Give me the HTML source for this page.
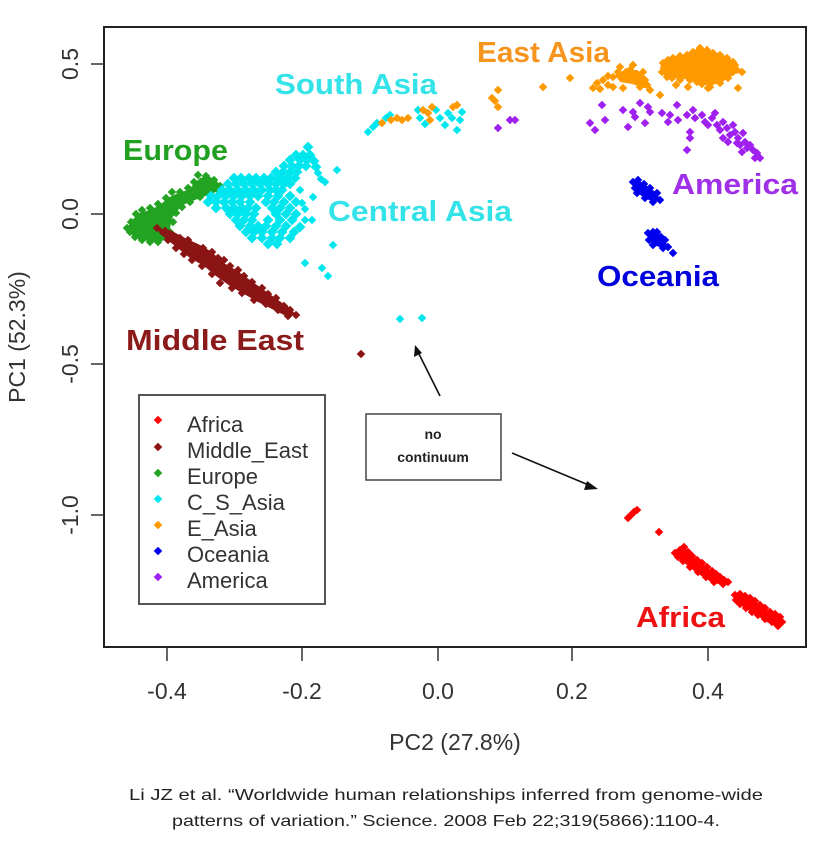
<!DOCTYPE html>
<html><head><meta charset="utf-8"><style>
html,body{margin:0;padding:0;background:#fff;}
svg{display:block;}
</style></head><body>
<svg width="825" height="851" viewBox="0 0 825 851" xmlns="http://www.w3.org/2000/svg" xmlns:xlink="http://www.w3.org/1999/xlink">
<defs><path id="d" d="M0-4.3L4.3 0 0 4.3-4.3 0z"/><path id="D" d="M0-5.4L5.4 0 0 5.4-5.4 0z"/></defs>
<rect width="825" height="851" fill="#fff"/>

<!-- Europe -->
<g fill="#22a322">
<polygon points="127,228 132,220 140,213 150,210 160,205 168,198 178,193 188,190 195,183 200,178 208,176 216,180 222,188 214,193 205,196 195,200 185,204 178,210 172,218 170,228 168,238 160,242 150,241 140,240 133,236"/>
<use href="#d" x="127" y="228"/><use href="#d" x="131" y="222"/><use href="#d" x="136" y="214"/><use href="#d" x="142" y="210"/><use href="#d" x="150" y="208"/><use href="#d" x="158" y="204"/><use href="#d" x="166" y="198"/><use href="#d" x="172" y="192"/><use href="#d" x="180" y="192"/><use href="#d" x="188" y="188"/><use href="#d" x="194" y="182"/><use href="#d" x="198" y="175"/><use href="#d" x="206" y="176"/><use href="#d" x="214" y="180"/><use href="#d" x="220" y="186"/><use href="#d" x="218" y="190"/><use href="#d" x="210" y="194"/><use href="#d" x="200" y="197"/><use href="#d" x="190" y="202"/><use href="#d" x="182" y="207"/><use href="#d" x="176" y="213"/><use href="#d" x="173" y="222"/><use href="#d" x="170" y="232"/><use href="#d" x="166" y="238"/><use href="#d" x="158" y="242"/><use href="#d" x="150" y="242"/><use href="#d" x="142" y="240"/><use href="#d" x="135" y="237"/><use href="#d" x="130" y="232"/>
</g>

<!-- Middle East -->
<g fill="#8b1414">
<polygon points="157,228 170,230 185,238 200,245 212,252 222,262 236,270 250,280 264,290 278,300 290,308 296,315 286,316 272,309 258,302 244,294 230,286 216,276 204,266 190,258 180,250 170,242 160,234"/>
<use href="#d" x="157" y="228"/><use href="#d" x="165" y="231"/><use href="#d" x="172" y="236"/><use href="#d" x="180" y="238"/><use href="#d" x="188" y="240"/><use href="#d" x="196" y="247"/><use href="#d" x="203" y="248"/><use href="#d" x="212" y="252"/><use href="#d" x="218" y="258"/><use href="#d" x="224" y="260"/><use href="#d" x="230" y="266"/><use href="#d" x="238" y="270"/><use href="#d" x="244" y="276"/><use href="#d" x="252" y="282"/><use href="#d" x="262" y="288"/><use href="#d" x="268" y="294"/><use href="#d" x="276" y="298"/><use href="#d" x="284" y="306"/><use href="#d" x="290" y="310"/><use href="#d" x="296" y="315"/><use href="#d" x="288" y="316"/><use href="#d" x="278" y="310"/><use href="#d" x="266" y="304"/><use href="#d" x="254" y="300"/><use href="#d" x="242" y="293"/><use href="#d" x="232" y="288"/><use href="#d" x="220" y="283"/><use href="#d" x="212" y="274"/><use href="#d" x="202" y="266"/><use href="#d" x="192" y="260"/><use href="#d" x="184" y="254"/><use href="#d" x="176" y="248"/><use href="#d" x="168" y="240"/><use href="#d" x="361" y="354"/>
</g>

<!-- Cyan C/S Asia -->
<g fill="#00e6ee">
<use href="#D" x="308" y="147"/>
<use href="#D" x="296" y="155"/><use href="#D" x="303" y="155"/><use href="#D" x="310" y="155"/>
<use href="#D" x="290" y="160"/><use href="#D" x="300" y="160"/><use href="#D" x="307" y="160"/><use href="#D" x="314" y="161"/>
<use href="#D" x="284" y="166"/><use href="#D" x="292" y="166"/><use href="#D" x="299" y="166"/><use href="#D" x="306" y="166"/><use href="#D" x="316" y="167"/>
<use href="#D" x="276" y="172"/><use href="#D" x="283" y="172"/><use href="#D" x="290" y="172"/><use href="#D" x="297" y="172"/><use href="#d" x="318" y="173"/>
<use href="#D" x="234" y="178"/><use href="#D" x="241" y="178"/><use href="#D" x="249" y="178"/><use href="#D" x="256" y="178"/><use href="#D" x="264" y="178"/><use href="#D" x="271" y="178"/><use href="#D" x="280" y="178"/><use href="#D" x="288" y="178"/><use href="#D" x="295" y="178"/><use href="#d" x="321" y="179"/>
<use href="#D" x="228" y="184"/><use href="#D" x="236" y="184"/><use href="#D" x="244" y="184"/><use href="#D" x="252" y="184"/><use href="#D" x="260" y="184"/><use href="#D" x="268" y="184"/><use href="#D" x="276" y="184"/><use href="#D" x="284" y="184"/><use href="#D" x="290" y="184"/><use href="#d" x="325" y="182"/>
<use href="#D" x="222" y="190"/><use href="#D" x="230" y="190"/><use href="#D" x="238" y="190"/><use href="#D" x="246" y="190"/><use href="#D" x="254" y="190"/><use href="#D" x="262" y="190"/><use href="#D" x="270" y="190"/><use href="#D" x="276" y="190"/><use href="#D" x="282" y="190"/><use href="#d" x="300" y="190"/>
<use href="#D" x="211" y="196"/><use href="#D" x="218" y="196"/><use href="#D" x="226" y="196"/><use href="#D" x="234" y="196"/><use href="#D" x="242" y="196"/><use href="#D" x="250" y="196"/><use href="#D" x="258" y="196"/><use href="#D" x="268" y="196"/><use href="#D" x="278" y="196"/><use href="#D" x="290" y="196"/><use href="#d" x="313" y="197"/>
<use href="#D" x="208" y="202"/><use href="#D" x="216" y="202"/><use href="#D" x="224" y="202"/><use href="#D" x="232" y="202"/><use href="#D" x="240" y="202"/><use href="#D" x="250" y="202"/><use href="#D" x="266" y="202"/><use href="#D" x="274" y="202"/><use href="#D" x="284" y="202"/><use href="#D" x="296" y="202"/><use href="#d" x="302" y="203"/>
<use href="#D" x="216" y="208"/><use href="#D" x="226" y="208"/><use href="#D" x="234" y="208"/><use href="#D" x="242" y="208"/><use href="#D" x="248" y="208"/><use href="#D" x="256" y="208"/><use href="#D" x="272" y="208"/><use href="#D" x="280" y="208"/><use href="#D" x="290" y="208"/><use href="#d" x="305" y="209"/>
<use href="#D" x="230" y="214"/><use href="#D" x="238" y="214"/><use href="#D" x="246" y="214"/><use href="#D" x="254" y="214"/><use href="#D" x="276" y="214"/><use href="#D" x="286" y="214"/><use href="#D" x="296" y="214"/>
<use href="#D" x="236" y="220"/><use href="#D" x="244" y="220"/><use href="#D" x="252" y="220"/><use href="#D" x="268" y="220"/><use href="#D" x="280" y="220"/><use href="#D" x="292" y="220"/><use href="#d" x="305" y="220"/><use href="#d" x="312" y="220"/>
<use href="#D" x="240" y="226"/><use href="#D" x="250" y="226"/><use href="#D" x="258" y="226"/><use href="#D" x="266" y="226"/><use href="#D" x="276" y="226"/><use href="#D" x="286" y="226"/><use href="#D" x="300" y="227"/>
<use href="#D" x="246" y="232"/><use href="#D" x="254" y="232"/><use href="#D" x="262" y="232"/><use href="#D" x="272" y="232"/><use href="#D" x="282" y="232"/><use href="#D" x="294" y="232"/>
<use href="#D" x="252" y="238"/><use href="#D" x="262" y="238"/><use href="#D" x="272" y="238"/><use href="#D" x="280" y="238"/><use href="#D" x="290" y="238"/>
<use href="#D" x="268" y="244"/><use href="#D" x="277" y="244"/>
<use href="#d" x="337" y="170"/><use href="#d" x="333" y="245"/><use href="#d" x="305" y="263"/><use href="#d" x="322" y="268"/><use href="#d" x="328" y="276"/>
<use href="#d" x="400" y="319"/><use href="#d" x="422" y="318"/>
<use href="#d" x="368" y="132"/><use href="#d" x="373" y="127"/><use href="#d" x="377" y="123"/><use href="#d" x="386" y="118"/><use href="#d" x="390" y="115"/><use href="#d" x="418" y="110"/><use href="#d" x="420" y="118"/><use href="#d" x="425" y="124"/><use href="#d" x="436" y="110"/><use href="#d" x="440" y="118"/><use href="#d" x="445" y="125"/><use href="#d" x="448" y="113"/><use href="#d" x="452" y="118"/><use href="#d" x="457" y="130"/><use href="#d" x="462" y="112"/><use href="#d" x="460" y="120"/>
</g>

<!-- Orange E Asia -->
<g fill="#ff9900">
<use href="#d" x="382" y="123"/><use href="#d" x="391" y="120"/><use href="#d" x="397" y="118"/><use href="#d" x="402" y="120"/><use href="#d" x="408" y="118"/><use href="#d" x="423" y="110"/><use href="#d" x="428" y="113"/><use href="#d" x="432" y="107"/><use href="#d" x="453" y="107"/><use href="#d" x="457" y="105"/><use href="#d" x="430" y="120"/>
<use href="#d" x="498" y="90"/><use href="#d" x="492" y="98"/><use href="#d" x="495" y="101"/><use href="#d" x="498" y="107"/><use href="#d" x="543" y="87"/><use href="#d" x="570" y="78"/>
<polygon points="615,75 625,70 637,70 645,76 650,86 644,88 632,84 620,82"/>
<use href="#d" x="593" y="88"/><use href="#d" x="597" y="83"/><use href="#d" x="603" y="80"/><use href="#d" x="608" y="76"/><use href="#d" x="613" y="77"/><use href="#d" x="620" y="67"/><use href="#d" x="626" y="72"/><use href="#d" x="630" y="70"/><use href="#d" x="633" y="65"/><use href="#d" x="637" y="77"/><use href="#d" x="640" y="87"/><use href="#d" x="643" y="72"/><use href="#d" x="647" y="85"/><use href="#d" x="650" y="90"/><use href="#d" x="660" y="95"/><use href="#d" x="613" y="87"/><use href="#d" x="623" y="88"/><use href="#d" x="608" y="85"/><use href="#d" x="625" y="78"/><use href="#d" x="645" y="80"/><use href="#d" x="618" y="72"/><use href="#d" x="600" y="89"/>
<polygon points="662,62 672,57 686,54 700,47 714,52 728,57 736,64 735,74 722,82 710,86 697,82 685,79 672,78 664,75 660,68"/>
<use href="#d" x="663" y="63"/><use href="#d" x="668" y="60"/><use href="#d" x="673" y="58"/><use href="#d" x="680" y="56"/><use href="#d" x="687" y="55"/><use href="#d" x="693" y="52"/><use href="#d" x="700" y="48"/><use href="#d" x="707" y="50"/><use href="#d" x="713" y="53"/><use href="#d" x="720" y="55"/><use href="#d" x="727" y="58"/><use href="#d" x="733" y="62"/><use href="#d" x="735" y="65"/><use href="#d" x="737" y="70"/><use href="#d" x="733" y="72"/><use href="#d" x="728" y="78"/><use href="#d" x="720" y="83"/><use href="#d" x="710" y="87"/><use href="#d" x="702" y="84"/><use href="#d" x="697" y="82"/><use href="#d" x="690" y="80"/><use href="#d" x="680" y="80"/><use href="#d" x="672" y="78"/><use href="#d" x="667" y="77"/><use href="#d" x="662" y="72"/><use href="#d" x="742" y="72"/><use href="#d" x="738" y="88"/><use href="#d" x="708" y="88"/><use href="#d" x="676" y="85"/><use href="#d" x="688" y="87"/>
</g>

<!-- Purple America -->
<g fill="#a020f0">
<use href="#d" x="498" y="128"/><use href="#d" x="510" y="120"/><use href="#d" x="515" y="120"/>
<use href="#d" x="602" y="105"/><use href="#d" x="590" y="123"/><use href="#d" x="595" y="130"/><use href="#d" x="605" y="120"/><use href="#d" x="623" y="110"/><use href="#d" x="628" y="127"/><use href="#d" x="633" y="112"/><use href="#d" x="635" y="117"/><use href="#d" x="640" y="103"/><use href="#d" x="645" y="123"/><use href="#d" x="648" y="107"/><use href="#d" x="650" y="112"/><use href="#d" x="662" y="113"/><use href="#d" x="668" y="122"/><use href="#d" x="670" y="115"/><use href="#d" x="677" y="105"/><use href="#d" x="678" y="120"/><use href="#d" x="687" y="115"/><use href="#d" x="690" y="132"/><use href="#d" x="690" y="138"/><use href="#d" x="687" y="150"/><use href="#d" x="693" y="110"/><use href="#d" x="695" y="118"/><use href="#d" x="702" y="115"/><use href="#d" x="705" y="122"/><use href="#d" x="708" y="125"/><use href="#d" x="715" y="113"/><use href="#d" x="717" y="125"/><use href="#d" x="723" y="122"/><use href="#d" x="727" y="128"/><use href="#d" x="730" y="135"/><use href="#d" x="723" y="138"/><use href="#d" x="733" y="125"/><use href="#d" x="735" y="132"/><use href="#d" x="738" y="138"/><use href="#d" x="743" y="133"/><use href="#d" x="745" y="142"/><use href="#d" x="750" y="145"/><use href="#d" x="753" y="150"/><use href="#d" x="757" y="153"/><use href="#d" x="760" y="158"/><use href="#d" x="747" y="148"/><use href="#d" x="740" y="145"/><use href="#d" x="728" y="142"/><use href="#d" x="737" y="143"/><use href="#d" x="712" y="118"/><use href="#d" x="720" y="130"/><use href="#d" x="742" y="152"/><use href="#d" x="755" y="158"/>
</g>

<!-- Blue Oceania -->
<g fill="#0000ee">
<polygon points="633,182 638,180 650,188 657,193 660,200 653,202 645,198 637,193 635,188"/>
<use href="#d" x="633" y="182"/><use href="#d" x="638" y="180"/><use href="#d" x="644" y="184"/><use href="#d" x="650" y="188"/><use href="#d" x="657" y="193"/><use href="#d" x="660" y="200"/><use href="#d" x="653" y="202"/><use href="#d" x="645" y="198"/><use href="#d" x="637" y="193"/><use href="#d" x="635" y="188"/>
<polygon points="648,233 657,232 665,240 668,247 663,248 653,245 649,240"/>
<use href="#d" x="648" y="233"/><use href="#d" x="653" y="232"/><use href="#d" x="657" y="232"/><use href="#d" x="661" y="237"/><use href="#d" x="665" y="240"/><use href="#d" x="668" y="247"/><use href="#d" x="673" y="253"/><use href="#d" x="663" y="248"/><use href="#d" x="653" y="245"/><use href="#d" x="649" y="240"/>
</g>

<!-- Red Africa -->
<g fill="#ff0000">
<use href="#d" x="628" y="518"/><use href="#d" x="631" y="515"/><use href="#d" x="634" y="512"/><use href="#d" x="637" y="510"/><use href="#d" x="659" y="532"/>
<polygon points="675,553 683,547 690,553 700,562 710,570 720,578 728,582 725,585 713,583 703,577 693,570 683,562 677,557"/>
<use href="#d" x="675" y="553"/><use href="#d" x="680" y="550"/><use href="#d" x="684" y="547"/><use href="#d" x="688" y="552"/><use href="#d" x="692" y="556"/><use href="#d" x="697" y="560"/><use href="#d" x="702" y="563"/><use href="#d" x="707" y="567"/><use href="#d" x="712" y="571"/><use href="#d" x="716" y="574"/><use href="#d" x="720" y="577"/><use href="#d" x="724" y="580"/><use href="#d" x="728" y="582"/><use href="#d" x="723" y="584"/><use href="#d" x="714" y="582"/><use href="#d" x="706" y="577"/><use href="#d" x="698" y="572"/><use href="#d" x="690" y="567"/><use href="#d" x="683" y="561"/><use href="#d" x="678" y="557"/>
<polygon points="735,595 743,595 753,600 767,610 780,617 782,622 777,627 767,622 753,613 743,607 737,600"/>
<use href="#d" x="735" y="595"/><use href="#d" x="740" y="594"/><use href="#d" x="745" y="596"/><use href="#d" x="750" y="598"/><use href="#d" x="755" y="601"/><use href="#d" x="760" y="605"/><use href="#d" x="765" y="608"/><use href="#d" x="770" y="612"/><use href="#d" x="775" y="614"/><use href="#d" x="780" y="617"/><use href="#d" x="782" y="622"/><use href="#d" x="778" y="626"/><use href="#d" x="772" y="622"/><use href="#d" x="765" y="619"/><use href="#d" x="758" y="615"/><use href="#d" x="752" y="612"/><use href="#d" x="746" y="608"/><use href="#d" x="740" y="604"/><use href="#d" x="736" y="600"/>
</g>

<!-- Region labels -->
<g font-family="Liberation Sans, sans-serif" font-weight="bold" font-size="29">
<text x="477" y="62" fill="#f7941d" textLength="133" lengthAdjust="spacingAndGlyphs">East Asia</text>
<text x="275" y="94" fill="#33e3e8" textLength="162" lengthAdjust="spacingAndGlyphs">South Asia</text>
<text x="123" y="160" fill="#22a022" textLength="105" lengthAdjust="spacingAndGlyphs">Europe</text>
<text x="328" y="221" fill="#33e3e8" textLength="184" lengthAdjust="spacingAndGlyphs">Central Asia</text>
<text x="126" y="350" fill="#8b1a1a" textLength="178" lengthAdjust="spacingAndGlyphs">Middle East</text>
<text x="672" y="194" fill="#a030e8" textLength="126" lengthAdjust="spacingAndGlyphs">America</text>
<text x="597" y="286" fill="#0000dd" textLength="122" lengthAdjust="spacingAndGlyphs">Oceania</text>
<text x="636" y="627" fill="#ee1111" textLength="89" lengthAdjust="spacingAndGlyphs">Africa</text>
</g>

<!-- Annotation box + arrows -->
<rect x="366" y="414" width="135" height="66" fill="#fff" stroke="#444" stroke-width="1.5"/>
<g font-family="Liberation Sans, sans-serif" font-weight="bold" font-size="14" fill="#222" text-anchor="middle">
<text x="433" y="439">no</text>
<text x="433" y="462">continuum</text>
</g>
<g stroke="#111" stroke-width="1.6" fill="none">
<line x1="440" y1="396" x2="418" y2="352"/>
<line x1="512" y1="453" x2="591" y2="486"/>
</g>
<polygon points="415,345 414,357 422,353" fill="#111"/>
<polygon points="598,489 587,481 584,490" fill="#111"/>

<!-- Legend -->
<rect x="139" y="395" width="186" height="209" fill="#fff" stroke="#555" stroke-width="2"/>
<g transform="translate(158,0)">
<use href="#d" y="420" fill="#ff0000"/>
<use href="#d" y="447" fill="#8b1414"/>
<use href="#d" y="473" fill="#22a322"/>
<use href="#d" y="499" fill="#00e6ee"/>
<use href="#d" y="525" fill="#ff9900"/>
<use href="#d" y="551" fill="#0000ee"/>
<use href="#d" y="577" fill="#a020f0"/>
</g>
<g font-family="Liberation Sans, sans-serif" font-size="22" fill="#333">
<text x="187" y="432">Africa</text>
<text x="187" y="458">Middle_East</text>
<text x="187" y="484">Europe</text>
<text x="187" y="510">C_S_Asia</text>
<text x="187" y="536">E_Asia</text>
<text x="187" y="562">Oceania</text>
<text x="187" y="588">America</text>
</g>

<!-- Plot frame -->
<rect x="104" y="27" width="702" height="620" fill="none" stroke="#222" stroke-width="2"/>

<!-- Ticks -->
<g stroke="#333" stroke-width="1.5">
<line x1="91" y1="64" x2="104" y2="64"/>
<line x1="91" y1="214" x2="104" y2="214"/>
<line x1="91" y1="364" x2="104" y2="364"/>
<line x1="91" y1="515" x2="104" y2="515"/>
<line x1="167" y1="647" x2="167" y2="661"/>
<line x1="302" y1="647" x2="302" y2="661"/>
<line x1="438" y1="647" x2="438" y2="661"/>
<line x1="572" y1="647" x2="572" y2="661"/>
<line x1="708" y1="647" x2="708" y2="661"/>
</g>

<g font-family="Liberation Sans, sans-serif" font-size="23" fill="#333" text-anchor="middle">
<text x="167" y="699">-0.4</text>
<text x="302" y="699">-0.2</text>
<text x="438" y="699">0.0</text>
<text x="572" y="699">0.2</text>
<text x="708" y="699">0.4</text>
<text transform="translate(78,64) rotate(-90)">0.5</text>
<text transform="translate(78,214) rotate(-90)">0.0</text>
<text transform="translate(78,364) rotate(-90)">-0.5</text>
<text transform="translate(78,515) rotate(-90)">-1.0</text>
<text x="455" y="750">PC2 (27.8%)</text>
<text transform="translate(25,337) rotate(-90)">PC1 (52.3%)</text>
</g>

<!-- Caption -->
<g font-family="Liberation Sans, sans-serif" font-size="16" fill="#222">
<text x="129" y="800" textLength="634" lengthAdjust="spacingAndGlyphs">Li JZ et al. “Worldwide human relationships inferred from genome-wide</text>
<text x="172" y="826" textLength="548" lengthAdjust="spacingAndGlyphs">patterns of variation.” Science. 2008 Feb 22;319(5866):1100-4.</text>
</g>
</svg>
</body></html>
